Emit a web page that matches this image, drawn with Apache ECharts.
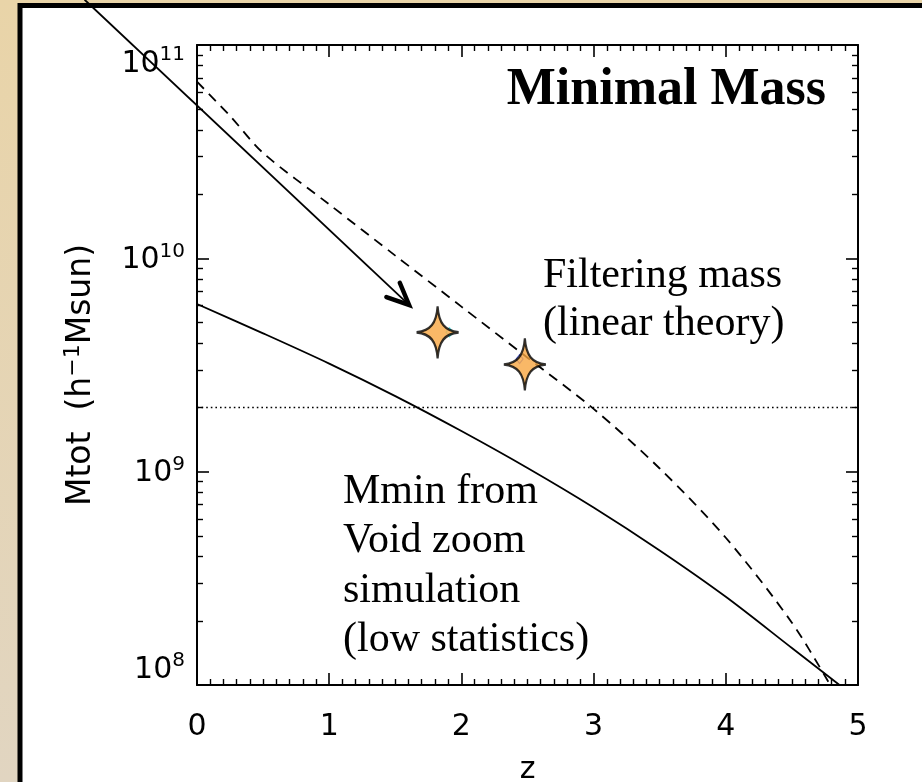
<!DOCTYPE html>
<html>
<head>
<meta charset="utf-8">
<script src="https://cdn.jsdelivr.net/npm/echarts@6/dist/echarts.min.js"></script>
<style>
  html, body { margin: 0; padding: 0; background: #fff; }
  #chart { width: 922px; height: 782px; }
</style>
</head>
<body>
<div id="chart"></div>
<script>
// Minimal halo mass vs redshift

// Mmin measured in the void zoom simulation (solid)
const mminZ = [0, 0.5, 1.0, 1.5, 2.0, 2.5, 3.0, 3.5, 4.0, 4.5, 4.86];
const mminM = [6.11e9, 4.45e9, 3.21e9, 2.26e9, 1.55e9, 1.04e9, 6.79e8, 4.27e8, 2.59e8, 1.49e8, 1.0e8];

// Filtering mass from linear theory (dashed)
const filtZ = [0, 0.25, 0.5, 1.0, 1.5, 2.0, 2.5, 3.0, 3.5, 4.0, 4.5, 4.79];
const filtM = [6.73e10, 4.65e10, 3.12e10, 1.79e10, 1.03e10, 5.94e9, 3.42e9, 1.97e9, 1.035e9, 4.9e8, 1.96e8, 1.0e8];

// Reference mass level (dotted)
const levelZ = [0, 5];
const levelM = [2e9, 2e9];

// Measured points (stars) and the small markers behind them
const starZ = [1.82, 2.48];
const starM = [4.5e9, 3.18e9];
const cyanZ = [1.91];
const cyanM = [4.5e9];
const blueZ = [2.44];
const blueM = [3.37e9];

// Pointer arrow, tail and head in data units
const arrowFrom = [-0.85, 1.63e11];
const arrowTo = [1.604, 6.05e9];

// Axes
const xTicks = [0, 1, 2, 3, 4, 5];
const yExponents = [8, 9, 10, 11];

const yMajor = yExponents.map(e => Math.pow(10, e));
const yMinor = [];
for (let e = 8; e < 11; e++) {
  for (let k = 2; k <= 9; k++) yMinor.push(k * Math.pow(10, e));
}

const pairs = (xs, ys) => xs.map((x, i) => [x, ys[i]]);

const SANS = '"DejaVu Sans"';
const SERIF = '"Liberation Serif", "Times New Roman", serif';
const INK = '#000';

// four-pointed star with concave arms
const starPath = 'path://M50 0 C53 33 67 47 100 50 C67 53 53 67 50 100 C47 67 33 53 0 50 C33 47 47 33 50 0 Z';

const chart = echarts.init(document.getElementById('chart'), null, { renderer: 'canvas' });

function xAxisDef(pos, showLabels) {
  return {
    type: 'value', min: 0, max: 5, interval: 1, position: pos,
    axisLine: { show: true, onZero: false, lineStyle: { color: INK, width: 2 } },
    axisTick: { show: true, inside: true, length: 12, lineStyle: { color: INK, width: 1.6 } },
    minorTick: { show: true, splitNumber: 10, length: 6, lineStyle: { color: INK, width: 1.4 } },
    splitLine: { show: false }, minorSplitLine: { show: false },
    axisLabel: {
      show: showLabels, margin: 27, color: INK, fontFamily: SANS, fontSize: 30,
      customValues: xTicks
    },
    name: showLabels ? 'z' : '',
    nameLocation: 'middle', nameGap: 70,
    nameTextStyle: { color: INK, fontFamily: SANS, fontSize: 30 }
  };
}

function yAxisDef(pos, minor, showLabels) {
  const ax = {
    type: 'log', logBase: 10, min: 1e8, max: 1e11, position: pos,
    axisLine: { show: !minor, onZero: false, lineStyle: { color: INK, width: 2 } },
    axisTick: {
      show: true, inside: true, length: minor ? 6 : 12,
      customValues: minor ? yMinor : yMajor,
      lineStyle: { color: INK, width: minor ? 1.4 : 1.6 }
    },
    splitLine: { show: false },
    axisLabel: { show: false }
  };
  if (showLabels) {
    ax.axisLabel = {
      show: true, margin: 12, color: INK,
      customValues: yMajor,
      verticalAlignMinLabel: 'bottom',
      verticalAlignMaxLabel: 'top',
      formatter: v => '{b|10}{s|' + Math.round(Math.log10(v)) + '}',
      rich: {
        b: { fontFamily: SANS, fontSize: 30, color: INK, lineHeight: 34, verticalAlign: 'bottom' },
        s: { fontFamily: SANS, fontSize: 20, color: INK, lineHeight: 22, verticalAlign: 'top' }
      }
    };
    ax.name = 'Mtot  (h{s|\u22121}Msun)';
    ax.nameLocation = 'middle';
    ax.nameRotate = 90;
    ax.nameGap = 97;
    ax.nameTextStyle = {
      color: INK, fontFamily: SANS, fontSize: 33, lineHeight: 38, verticalAlign: 'bottom',
      padding: [0, 20, 0, 0],
      rich: {
        s: { fontFamily: SANS, fontSize: 22, color: INK, lineHeight: 38, verticalAlign: 'top' }
      }
    };
  }
  return ax;
}

const option = {
  animation: false,
  backgroundColor: 'transparent',
  grid: {
    left: 197, top: 45, width: 661, height: 640,
    containLabel: false, outerBoundsMode: 'none'
  },
  xAxis: [xAxisDef('bottom', true), xAxisDef('top', false)],
  yAxis: [
    yAxisDef('left', false, true),
    yAxisDef('left', true, false),
    yAxisDef('right', false, false),
    yAxisDef('right', true, false)
  ],
  graphic: [
    {
      type: 'rect', z: -20, silent: true,
      shape: { x: 0, y: 0, width: 922, height: 782 },
      style: {
        fill: new echarts.graphic.LinearGradient(0, 0, 0, 1, [
          { offset: 0, color: '#E9D4A8' },
          { offset: 1, color: '#E1D5C1' }
        ])
      }
    },
    {
      type: 'rect', z: -19, silent: true,
      shape: { x: 20, y: 5.5, width: 910, height: 790 },
      style: { fill: '#fff', stroke: '#000', lineWidth: 5 }
    },
    {
      type: 'text', z: 100, x: 826, y: 91,
      style: {
        text: 'Minimal Mass', fill: INK,
        font: 'bold 52px ' + SERIF, textAlign: 'right', textVerticalAlign: 'middle'
      }
    },
    {
      type: 'text', z: 100, x: 543, y: 252,
      style: {
        text: 'Filtering mass\n(linear theory)', fill: INK,
        font: '42px ' + SERIF, lineHeight: 48, textAlign: 'left', textVerticalAlign: 'top'
      }
    },
    {
      type: 'text', z: 100, x: 343, y: 467,
      style: {
        text: 'Mmin from\nVoid zoom\nsimulation\n(low statistics)', fill: INK,
        font: '42px ' + SERIF, lineHeight: 49.5, textAlign: 'left', textVerticalAlign: 'top'
      }
    }
  ],
  series: [
    {
      name: 'Mmin', type: 'line', xAxisIndex: 0, yAxisIndex: 0,
      data: pairs(mminZ, mminM), showSymbol: false, symbol: 'none', smooth: 0.3,
      lineStyle: { color: INK, width: 1.8 }, z: 3
    },
    {
      name: 'Filtering mass', type: 'line', xAxisIndex: 0, yAxisIndex: 0,
      data: pairs(filtZ, filtM), showSymbol: false, symbol: 'none', smooth: 0.3,
      lineStyle: { color: INK, width: 1.8, type: [10, 7] }, z: 3
    },
    {
      name: 'Level', type: 'line', xAxisIndex: 0, yAxisIndex: 0,
      data: pairs(levelZ, levelM), showSymbol: false, symbol: 'none',
      lineStyle: { color: INK, width: 1.6, type: [1.6, 3] }, z: 3
    },
    {
      name: 'Arrow', type: 'custom', xAxisIndex: 0, yAxisIndex: 0, clip: false, z: 4,
      data: [[arrowFrom[0], arrowFrom[1], arrowTo[0], arrowTo[1]]],
      renderItem: (params, api) => {
        const p0 = api.coord([api.value(0), api.value(1)]);
        const p1 = api.coord([api.value(2), api.value(3)]);
        const ang = Math.atan2(p0[1] - p1[1], p0[0] - p1[0]);
        const L = 24, spread = 0.42;
        const a1 = [p1[0] + L * Math.cos(ang + spread), p1[1] + L * Math.sin(ang + spread)];
        const a2 = [p1[0] + L * Math.cos(ang - spread), p1[1] + L * Math.sin(ang - spread)];
        return {
          type: 'group',
          children: [
            { type: 'line', shape: { x1: p0[0], y1: p0[1], x2: p1[0], y2: p1[1] },
              style: { stroke: INK, lineWidth: 1.8 } },
            { type: 'polyline', shape: { points: [a1, p1, a2] },
              style: { stroke: INK, lineWidth: 4.5, fill: null, lineJoin: 'miter', lineCap: 'round' } }
          ]
        };
      }
    },
    {
      name: 'cyan', type: 'scatter', xAxisIndex: 0, yAxisIndex: 0,
      data: pairs(cyanZ, cyanM), symbol: 'diamond', symbolSize: [7, 9],
      itemStyle: { color: 'rgba(255,255,255,0)', borderColor: '#3FE0E8', borderWidth: 1.2 }, z: 5
    },
    {
      name: 'blue', type: 'scatter', xAxisIndex: 0, yAxisIndex: 0,
      data: pairs(blueZ, blueM), symbol: 'diamond', symbolSize: [7, 9],
      itemStyle: { color: 'rgba(255,255,255,0)', borderColor: '#3B4BE0', borderWidth: 1.2 }, z: 5
    },
    {
      name: 'Stars', type: 'scatter', xAxisIndex: 0, yAxisIndex: 0,
      data: pairs(starZ, starM), symbol: starPath, symbolSize: [42, 52],
      itemStyle: { color: '#F8A641', borderColor: '#000', borderWidth: 2.4 }, z: 6
    }
  ]
};

chart.setOption(option);
</script>
</body>
</html>
